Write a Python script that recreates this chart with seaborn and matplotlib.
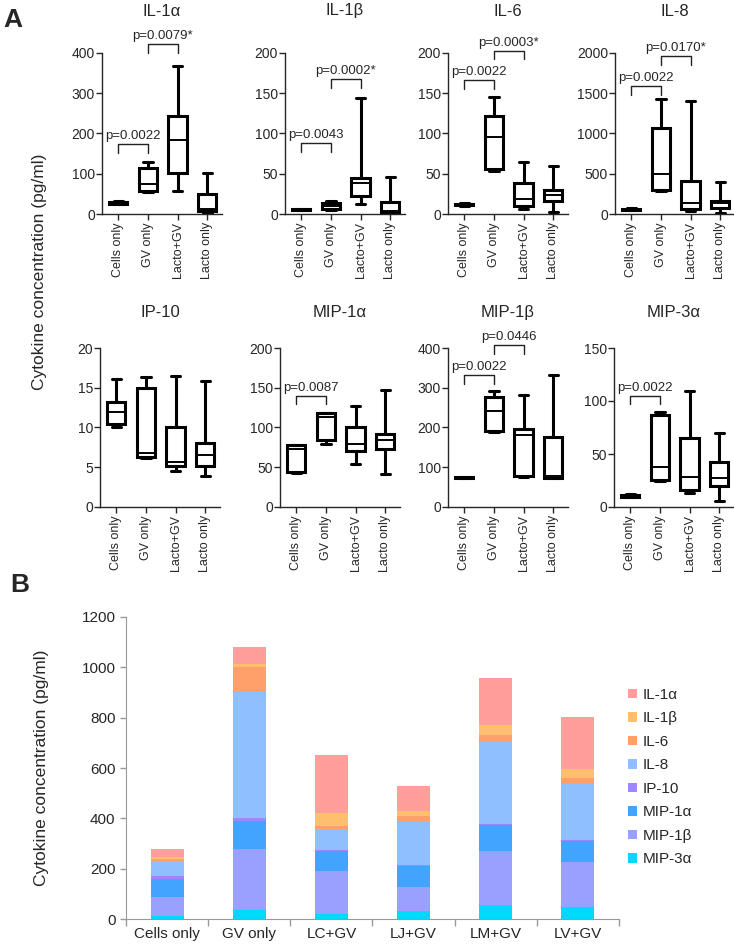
import numpy as np
import pandas as pd
import matplotlib
matplotlib.use("Agg")
import matplotlib.pyplot as plt
import seaborn as sns

sns.set_style("ticks")
plt.rcParams['font.family'] = ['Liberation Sans', 'DejaVu Sans']

groups = ["Cells only", "GV only", "Lacto+GV", "Lacto only"]
cytokines = ["IL-1α", "IL-1β", "IL-6", "IL-8", "IP-10", "MIP-1α", "MIP-1β", "MIP-3α"]

# box stats, one row per group: whisker low, q1, median, q3, whisker high
il1a = [[24, 26, 28, 31, 33], [55, 58, 74, 114, 129], [56, 101, 184, 244, 368], [3, 7, 12, 49, 101]]
il1b = [[4.5, 5, 5.5, 6, 6.5], [5.5, 6.5, 9.5, 13.5, 16], [12.5, 22, 39, 45, 144], [0.5, 1.5, 4, 15, 46]]
il6 = [[10.5, 11, 12, 13, 13.5], [53, 56.5, 96, 122, 145], [6.3, 10.5, 18.4, 38.6, 64], [3, 16.4, 23, 30, 60]]
il8 = [[50, 55, 62, 68, 75], [281, 302, 503, 1069, 1425], [38, 63, 134, 407, 1405], [13, 80, 134, 164, 398]]
ip10 = [[10.1, 10.5, 11.9, 13.2, 16.1], [6.2, 6.3, 6.8, 15, 16.4], [4.5, 5.2, 5.6, 10, 16.5], [3.9, 5.1, 6.5, 8, 15.9]]
mip1a = [[43, 43.5, 73, 78, 78.5], [79, 84.6, 113, 118, 118.5], [54, 71, 79, 100, 127], [41, 73, 84.6, 92, 147.6]]
mip1b = [[73, 74, 75, 75.5, 76], [189, 190, 242, 277, 293], [76, 77, 181, 196, 283], [73, 73.5, 77, 175, 332]]
mip3a = [[9, 9.5, 10.5, 11.5, 12], [24.7, 25, 37.5, 87, 90], [13, 15.6, 28, 64.7, 109], [5.3, 19.4, 27.5, 42, 70]]
box_data = [il1a, il1b, il6, il8, ip10, mip1a, mip1b, mip3a]
y_max = [400, 200, 200, 2000, 20, 200, 400, 150]
y_step = [100, 50, 50, 500, 5, 50, 100, 50]

# significance brackets: group i, group j, bracket height, label
brackets = [
    [(0, 1, 174, "p=0.0022"), (1, 2, 422, "p=0.0079*")],
    [(0, 1, 88, "p=0.0043"), (1, 2, 168, "p=0.0002*")],
    [(0, 1, 166, "p=0.0022"), (1, 2, 203, "p=0.0003*")],
    [(0, 1, 1589, "p=0.0022"), (1, 2, 1958, "p=0.0170*")],
    [],
    [(0, 1, 140, "p=0.0087")],
    [(0, 1, 332, "p=0.0022"), (1, 2, 408, "p=0.0446")],
    [(0, 1, 105, "p=0.0022")],
]

# panel B stacked bars
bar_groups = ["Cells only", "GV only", "LC+GV", "LJ+GV", "LM+GV", "LV+GV"]
bar_il1a = [32, 67, 233, 100, 186, 204]
bar_il1b = [6, 12, 52, 19, 38, 37]
bar_il6 = [11, 95, 10, 23, 30, 24]
bar_il8 = [57, 505, 85, 172, 323, 221]
bar_ip10 = [12, 12, 4, 4, 4, 4]
bar_mip1a = [74, 111, 80, 84, 103, 83]
bar_mip1b = [73, 240, 170, 98, 218, 179]
bar_mip3a = [13, 37, 19, 30, 54, 49]
bar_values = [bar_il1a, bar_il1b, bar_il6, bar_il8, bar_ip10, bar_mip1a, bar_mip1b, bar_mip3a]
bar_colors = ["#ff9e9a", "#ffbf6f", "#ffa06a", "#90bfff", "#9f85ff", "#42a4ff", "#99a0ff", "#00d8ff"]

fig = plt.figure(figsize=(7.34, 9.46), dpi=100)
W, H = 734, 946

lefts_top = [102, 285, 448, 615]
lefts_bot = [100, 280, 448, 614]

for k, name in enumerate(cytokines):
    if k < 4:
        left, bottom, top = lefts_top[k], 214, 53
        pad = 27
    else:
        left, bottom, top = lefts_bot[k - 4], 507, 348
        pad = 22
    ax = fig.add_axes([left / W, 1 - bottom / H, 120 / W, (bottom - top) / H])
    stats = [dict(whislo=r[0], q1=r[1], med=r[2], q3=r[3], whishi=r[4]) for r in box_data[k]]
    ax.bxp(stats, positions=range(4), widths=0.62, showfliers=False, patch_artist=True,
           boxprops=dict(facecolor="white", edgecolor="black", linewidth=2.2),
           medianprops=dict(color="black", linewidth=1.4),
           whiskerprops=dict(color="black", linewidth=2.2),
           capprops=dict(color="black", linewidth=2.2))
    ax.set_xlim(-0.55, 3.5)
    ax.set_ylim(0, y_max[k])
    ax.set_yticks(np.arange(0, y_max[k] + 1e-9, y_step[k]))
    ax.set_xticks(range(4))
    ax.set_xticklabels(groups, rotation=90, fontsize=9)
    ax.tick_params(axis="y", labelsize=10, length=4, width=1, pad=1)
    ax.tick_params(axis="x", length=4, width=1, pad=2)
    sns.despine(ax=ax)
    ax.spines["left"].set_linewidth(1)
    ax.spines["bottom"].set_linestyle((0, (1, 1)))
    ax.spines["bottom"].set_linewidth(1)
    ax.set_title(name, fontsize=12, pad=pad)
    for i, j, yb, lab in brackets[k]:
        d = 0.055 * y_max[k]
        ax.plot([i, i, j, j], [yb - d, yb, yb, yb - d], color="#222", lw=1, clip_on=False)
        ax.text((i + j) / 2, yb + 0.012 * y_max[k], lab, ha="center", va="bottom", fontsize=9.5)

fig.text(40 / W, 1 - 272 / H, "Cytokine concentration (pg/ml)", rotation=90,
         ha="center", va="center", fontsize=12.5)
fig.text(3 / W, 1 - 20 / H, "A", fontsize=19, fontweight="bold", va="center", ha="left")
fig.text(10 / W, 1 - 585 / H, "B", fontsize=19, fontweight="bold", va="center", ha="left")

# panel B
rows = []
for name, vals in zip(cytokines, bar_values):
    for g, v in zip(bar_groups, vals):
        rows.append({"group": g, "cytokine": name, "value": v})
bars = pd.DataFrame(rows)

axb = fig.add_axes([126 / W, 1 - 919 / H, 493 / W, 302 / H])
sns.histplot(data=bars, x="group", weights="value", hue="cytokine", hue_order=cytokines,
             multiple="stack", discrete=True, shrink=0.4, palette=bar_colors, alpha=1,
             linewidth=0, ax=axb)
axb.set_xlim(-0.5, 5.5)
axb.set_ylim(0, 1200)
axb.set_yticks(range(0, 1201, 200))
axb.set_xticks(range(6))
axb.set_xticklabels(bar_groups)
axb.set_xticks(np.arange(-0.5, 6, 1), minor=True)
axb.tick_params(axis="x", which="major", length=0, labelsize=11, pad=6)
axb.tick_params(axis="x", which="minor", length=5, color="#999", width=1)
axb.tick_params(axis="y", labelsize=11, length=4, color="#999", width=1)
axb.set_xlabel("")
axb.set_ylabel("")
sns.despine(ax=axb)
axb.spines["left"].set_color("#999")
axb.spines["bottom"].set_color("#999")
sns.move_legend(axb, "center left", bbox_to_anchor=(0.99, 0.47), frameon=False, title=None,
                fontsize=11, handlelength=0.6, handleheight=0.6, handletextpad=0.4,
                labelspacing=0.62)
fig.text(42 / W, 1 - 768 / H, "Cytokine concentration (pg/ml)", rotation=90,
         ha="center", va="center", fontsize=12.5)

fig.savefig("out.png", dpi=100)
